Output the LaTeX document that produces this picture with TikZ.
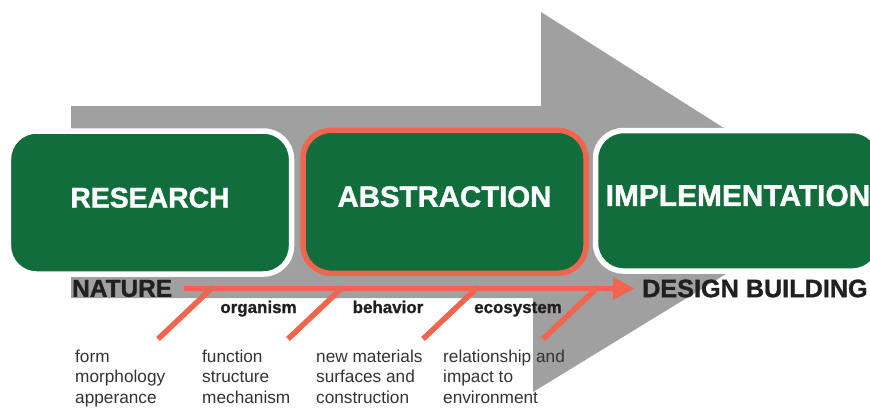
\documentclass[tikz,border=0pt]{standalone}
\usepackage{fontspec}
\setmainfont{Liberation Sans}
\newfontfamily\heavyfont{Liberation Sans}[BoldFeatures={FakeBold=1.3}]
\usetikzlibrary{arrows.meta}

\definecolor{leafgreen}{HTML}{116D3B}
\definecolor{coral}{HTML}{F0654D}
\definecolor{arrowgray}{HTML}{A0A0A0}
\definecolor{inkblack}{HTML}{231F20}
\definecolor{bodygray}{HTML}{333333}

\begin{document}
\begin{tikzpicture} [
            x=1bp, y=-1bp,
            phase/.style={fill=leafgreen, draw=white, line width=5.5bp,
                rounded corners=28bp, minimum width=283bp, minimum height=143bp,
                text=white, font=\heavyfont\fontsize{#1}{30}\selectfont\bfseries,
                text height=20.5bp, text depth=10.5bp, inner sep=0pt},
            flow/.style={coral, line width=5.5bp},
            endlabel/.style={inkblack, font=\heavyfont\fontsize{#1}{26}\selectfont\bfseries, inner sep=0pt},
            tag/.style={inkblack, font=\heavyfont\fontsize{17}{19}\selectfont\bfseries, inner sep=0pt},
            notes/.style={bodygray, font=\fontsize{17.3}{20.5}\selectfont, align=left,
                inner sep=0pt, anchor=north west}]

\useasboundingbox (0,0) rectangle (870,407);
\clip (0,0) rectangle (870,407);

% big arrow
\fill[arrowgray] (71,106) -- (541,106) -- (541,12) -- (842,203)
   -- (533,392) -- (533,298) -- (71,298) -- cycle;

% phases
\node (research) at (150,202.5) [phase=28.5] {RESEARCH};
\node (abstraction) at (444.5,201.8) [phase=29.5, draw=coral] {ABSTRACTION};
\node (implementation) at (738,200.8) [phase=30, minimum width=285bp, minimum height=140.5bp] {IMPLEMENTATION};

% from nature to building
\node (nature) at (72,288.5) [endlabel=24.5, anchor=west] {NATURE};
\node (design) at (642,288.5) [endlabel=25.3, anchor=west] {DESIGN BUILDING};
\draw[flow, -{Triangle[length=22bp, width=21bp]}, shorten <=12bp, shorten >=7bp]
   (nature.east) -- (design.west);

% branches
\foreach \x [count=\i] in {158,288,423,543} {
   \coordinate (foot\i) at (\x,339);
   \coordinate (join\i) at (\x+55,287);
   \draw[flow] (foot\i) -- (join\i);
}

% branch labels
\node (organism) at (258.5,313) [tag, anchor=base] {organism};
\node (behavior) at (388,313) [tag, anchor=base] {behavior};
\node (ecosystem) at (518,313) [tag, anchor=base] {ecosystem};

% notes
\node (form) at (75,349.5) [notes] {form\\morphology\\apperance};
\node (function) at (202,349.5) [notes] {function\\structure\\mechanism};
\node (materials) at (316,349.5) [notes] {new materials\\surfaces and\\construction};
\node (impact) at (443,349.5) [notes] {relationship and\\impact to\\environment};

\end{tikzpicture}
\end{document}
